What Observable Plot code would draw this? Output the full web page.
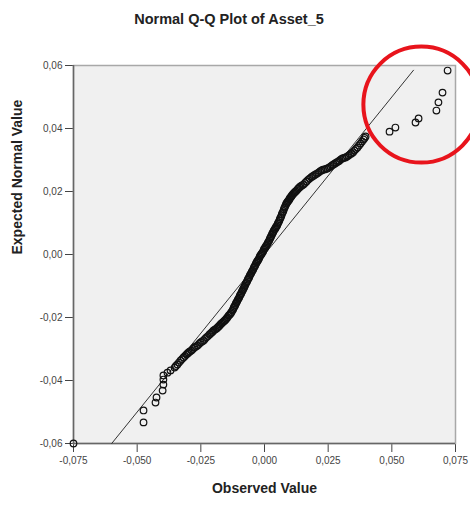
<!DOCTYPE html>
<html>
<head>
<meta charset="utf-8">
<script src="https://cdn.jsdelivr.net/npm/d3@7"></script>
<script src="https://cdn.jsdelivr.net/npm/@observablehq/plot@0.6"></script>
<style>
  html, body { margin: 0; padding: 0; background: #fff; }
  #wrap { position: relative; width: 470px; height: 505px; }
  #title { position: absolute; left: 0; top: 11px; width: 458px; text-align: center;
           font: bold 14.5px "Liberation Sans", Arial, sans-serif; color: #222; }
  #chart { position: absolute; left: 0; top: 40px; }
  #chart svg { display: block; }
</style>
</head>
<body>
<div id="wrap">
  <div id="title">Normal Q-Q Plot of Asset_5</div>
  <div id="chart"></div>
</div>
<script>
const qqPairs = [
  [-0.0750, -0.0600], [-0.0475, -0.0533], [-0.0475, -0.0495], [-0.0428, -0.0470], [-0.0424, -0.0454],
  [-0.0400, -0.0432], [-0.0397, -0.0413], [-0.0397, -0.0397], [-0.0397, -0.0384], [-0.0381, -0.0375],
  [-0.0369, -0.0368],
  [-0.0353, -0.0359], [-0.0348, -0.0354], [-0.0342, -0.0349], [-0.0336, -0.0343], [-0.0330, -0.0337],
  [-0.0324, -0.0332], [-0.0318, -0.0327], [-0.0312, -0.0322], [-0.0306, -0.0317], [-0.0302, -0.0314],
  [-0.0298, -0.0311], [-0.0293, -0.0308], [-0.0287, -0.0305], [-0.0281, -0.0300], [-0.0275, -0.0295],
  [-0.0269, -0.0292], [-0.0263, -0.0289], [-0.0257, -0.0284], [-0.0251, -0.0279], [-0.0245, -0.0276],
  [-0.0239, -0.0273], [-0.0234, -0.0268], [-0.0228, -0.0263], [-0.0222, -0.0259], [-0.0216, -0.0254],
  [-0.0212, -0.0251], [-0.0208, -0.0248], [-0.0204, -0.0245], [-0.0200, -0.0241], [-0.0194, -0.0238],
  [-0.0188, -0.0235], [-0.0185, -0.0232], [-0.0181, -0.0229], [-0.0177, -0.0226], [-0.0173, -0.0222],
  [-0.0169, -0.0219], [-0.0165, -0.0216], [-0.0161, -0.0213], [-0.0157, -0.0210], [-0.0153, -0.0207],
  [-0.0149, -0.0203], [-0.0145, -0.0199], [-0.0141, -0.0194], [-0.0137, -0.0191], [-0.0133, -0.0187],
  [-0.0130, -0.0183], [-0.0126, -0.0178],
  [-0.0123, -0.0174], [-0.0121, -0.0169], [-0.0118, -0.0165], [-0.0115, -0.0161], [-0.0113, -0.0156],
  [-0.0110, -0.0152], [-0.0107, -0.0148], [-0.0105, -0.0144], [-0.0102, -0.0140], [-0.0099, -0.0136],
  [-0.0097, -0.0131], [-0.0094, -0.0127], [-0.0091, -0.0123], [-0.0089, -0.0118], [-0.0086, -0.0114],
  [-0.0084, -0.0110], [-0.0081, -0.0106], [-0.0079, -0.0102], [-0.0076, -0.0098], [-0.0074, -0.0093],
  [-0.0071, -0.0089], [-0.0068, -0.0085], [-0.0066, -0.0080], [-0.0063, -0.0076], [-0.0060, -0.0072],
  [-0.0058, -0.0067], [-0.0055, -0.0063], [-0.0052, -0.0059], [-0.0050, -0.0055], [-0.0047, -0.0051],
  [-0.0044, -0.0047], [-0.0042, -0.0042], [-0.0039, -0.0038], [-0.0036, -0.0034], [-0.0034, -0.0029],
  [-0.0031, -0.0025], [-0.0029, -0.0022], [-0.0026, -0.0019], [-0.0024, -0.0016], [-0.0021, -0.0012],
  [-0.0019, -0.0007], [-0.0016, -0.0003], [-0.0013, 0.0000], [-0.0011, 0.0003], [-0.0008, 0.0006],
  [-0.0005, 0.0010], [-0.0003, 0.0015], [0.0000, 0.0019], [0.0003, 0.0022], [0.0005, 0.0026],
  [0.0008, 0.0029], [0.0011, 0.0033], [0.0013, 0.0037], [0.0016, 0.0041], [0.0019, 0.0045],
  [0.0021, 0.0050], [0.0024, 0.0054], [0.0026, 0.0058], [0.0029, 0.0063], [0.0031, 0.0067],
  [0.0034, 0.0071], [0.0036, 0.0075], [0.0039, 0.0079], [0.0042, 0.0082], [0.0044, 0.0086],
  [0.0047, 0.0089], [0.0050, 0.0093], [0.0052, 0.0098], [0.0055, 0.0102], [0.0058, 0.0107],
  [0.0060, 0.0112], [0.0063, 0.0117], [0.0066, 0.0122], [0.0068, 0.0128], [0.0071, 0.0133],
  [0.0074, 0.0138], [0.0076, 0.0144], [0.0079, 0.0149], [0.0081, 0.0153], [0.0084, 0.0158],
  [0.0086, 0.0162], [0.0089, 0.0165], [0.0091, 0.0168], [0.0094, 0.0171], [0.0097, 0.0174],
  [0.0099, 0.0178], [0.0102, 0.0181], [0.0105, 0.0184], [0.0107, 0.0187], [0.0110, 0.0190],
  [0.0114, 0.0194], [0.0118, 0.0197], [0.0122, 0.0200], [0.0126, 0.0203], [0.0130, 0.0207],
  [0.0133, 0.0210], [0.0137, 0.0213], [0.0141, 0.0216],
  [0.0147, 0.0219], [0.0153, 0.0222], [0.0159, 0.0227], [0.0165, 0.0232], [0.0171, 0.0237],
  [0.0177, 0.0241], [0.0183, 0.0245], [0.0188, 0.0248], [0.0194, 0.0251], [0.0200, 0.0254],
  [0.0206, 0.0257], [0.0212, 0.0260], [0.0218, 0.0264], [0.0224, 0.0267], [0.0230, 0.0269],
  [0.0236, 0.0270], [0.0242, 0.0272], [0.0247, 0.0273], [0.0253, 0.0276], [0.0259, 0.0279],
  [0.0265, 0.0283], [0.0271, 0.0286], [0.0277, 0.0289], [0.0283, 0.0292], [0.0289, 0.0295],
  [0.0294, 0.0298], [0.0300, 0.0302], [0.0306, 0.0305], [0.0312, 0.0307], [0.0318, 0.0308],
  [0.0324, 0.0311], [0.0330, 0.0314], [0.0336, 0.0318], [0.0342, 0.0321], [0.0348, 0.0325],
  [0.0353, 0.0330], [0.0359, 0.0335], [0.0365, 0.0340], [0.0371, 0.0346], [0.0377, 0.0352],
  [0.0383, 0.0359], [0.0389, 0.0365], [0.0393, 0.0370], [0.0397, 0.0375],
  [0.0491, 0.0390], [0.0514, 0.0403], [0.0593, 0.0419], [0.0605, 0.0432], [0.0675, 0.0457],
  [0.0683, 0.0483], [0.0699, 0.0514], [0.0719, 0.0584]
];
const refLine = [-0.060, 0.0585];          // reference line y = x, its two ends
const xTicks = [-0.075, -0.050, -0.025, 0, 0.025, 0.050, 0.075];
const yTicks = [-0.06, -0.04, -0.02, 0, 0.02, 0.04, 0.06];
const highlight = [{x: 0.0616, y: 0.0476}]; // centre of the red annotation circle

const points = qqPairs.map(([o, e]) => ({observed: o, expected: e}));
const loc = d3.formatLocale({decimal: ",", thousands: ".", grouping: [3], currency: ["", ""], minus: "-"});
const fx = loc.format(".3f");
const fy = loc.format(".2f");

const chart = Plot.plot({
  width: 470,
  height: 465,
  marginTop: 25,
  marginBottom: 62,
  marginLeft: 73,
  marginRight: 15,
  style: {fontFamily: "'Liberation Sans', Arial, sans-serif", fontSize: "10px", color: "#444", background: "transparent", overflow: "visible"},
  x: {domain: [-0.075, 0.075], ticks: xTicks, tickFormat: fx, tickSize: 9, tickPadding: 4, label: null},
  y: {domain: [-0.06, 0.06], ticks: yTicks, tickFormat: fy, tickSize: 8, tickPadding: 3, label: null},
  marks: [
    Plot.frame({fill: "#f0f0f0", stroke: "#a8a8a8", strokeWidth: 1.5}),
    Plot.ruleX([-0.075], {stroke: "#666", strokeWidth: 1.5}),
    Plot.ruleY([-0.06], {stroke: "#666", strokeWidth: 1.5}),
    Plot.line(refLine, {x: d => d, y: d => d, stroke: "#333", strokeWidth: 1}),
    Plot.dot(points, {x: "observed", y: "expected", r: 3.3, stroke: "#111", strokeWidth: 1.2, fill: "none"}),
    Plot.dot(highlight, {x: "x", y: "y", r: 58, stroke: "#e8141c", strokeWidth: 4, fill: "none"}),
    Plot.text(["Expected Normal Value"], {text: d => d, frameAnchor: "left", dx: -56, rotate: -90,
      fontWeight: "bold", fontSize: 14, fill: "#222"}),
    Plot.text(["Observed Value"], {text: d => d, frameAnchor: "bottom", dy: 49,
      fontWeight: "bold", fontSize: 14, fill: "#222"})
  ]
});
document.getElementById("chart").appendChild(chart);
</script>
</body>
</html>
